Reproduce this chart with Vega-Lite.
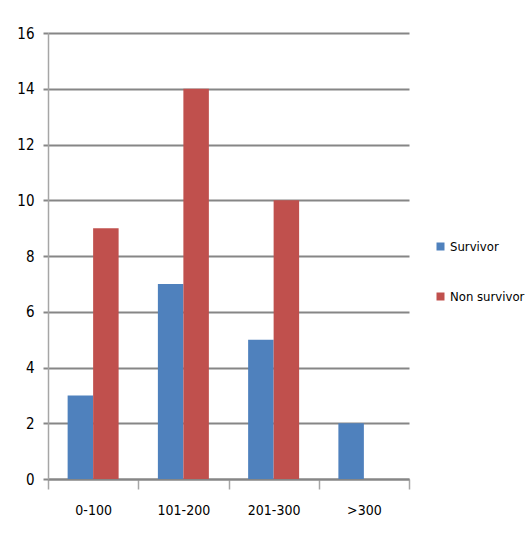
{
  "$schema": "https://vega.github.io/schema/vega-lite/v6.json",
  "autosize": "none",
  "width": 361,
  "height": 446,
  "padding": {"left": 48, "top": 33, "right": 119, "bottom": 58},
  "background": "white",
  "config": {
    "font": "'DejaVu Sans Condensed', 'Liberation Sans', sans-serif",
    "view": {"stroke": null}
  },
  "data": {
    "values": [
      {"range": "0-100", "group": "Survivor", "count": 3},
      {"range": "0-100", "group": "Non survivor", "count": 9},
      {"range": "101-200", "group": "Survivor", "count": 7},
      {"range": "101-200", "group": "Non survivor", "count": 14},
      {"range": "201-300", "group": "Survivor", "count": 5},
      {"range": "201-300", "group": "Non survivor", "count": 10},
      {"range": ">300", "group": "Survivor", "count": 2},
      {"range": ">300", "group": "Non survivor", "count": 0}
    ]
  },
  "mark": {"type": "bar"},
  "encoding": {
    "x": {
      "field": "range",
      "type": "nominal",
      "sort": ["0-100", "101-200", "201-300", ">300"],
      "scale": {"paddingInner": 0, "paddingOuter": 0},
      "axis": {
        "title": null,
        "labelAngle": 0,
        "tickBand": "extent",
        "domainColor": "#868686",
        "domainWidth": 2,
        "tickColor": "#a6a6a6",
        "tickWidth": 1.5,
        "tickSize": 10,
        "labelFontSize": 14,
        "labelColor": "#000000",
        "labelPadding": 14
      }
    },
    "xOffset": {
      "field": "group",
      "type": "nominal",
      "sort": ["Survivor", "Non survivor"],
      "scale": {"paddingInner": 0, "paddingOuter": 0.77}
    },
    "y": {
      "field": "count",
      "type": "quantitative",
      "scale": {"domain": [0, 16], "nice": false},
      "axis": {
        "title": null,
        "values": [0, 2, 4, 6, 8, 10, 12, 14, 16],
        "grid": true,
        "gridColor": "#868686",
        "gridWidth": 2,
        "domainColor": "#a6a6a6",
        "domainWidth": 1.5,
        "tickColor": "#868686",
        "tickWidth": 2,
        "tickSize": 5,
        "labelFontSize": 15,
        "labelColor": "#000000",
        "labelPadding": 9
      }
    },
    "color": {
      "field": "group",
      "type": "nominal",
      "sort": ["Survivor", "Non survivor"],
      "scale": {"domain": ["Survivor", "Non survivor"], "range": ["#4F81BD", "#C0504D"]},
      "legend": {
        "title": null,
        "orient": "none",
        "legendX": 386,
        "legendY": 207,
        "symbolType": "square",
        "symbolSize": 64,
        "symbolStrokeWidth": 0,
        "labelFontSize": 13,
        "labelColor": "#000000",
        "labelOffset": 3,
        "rowPadding": 36
      }
    }
  }
}
